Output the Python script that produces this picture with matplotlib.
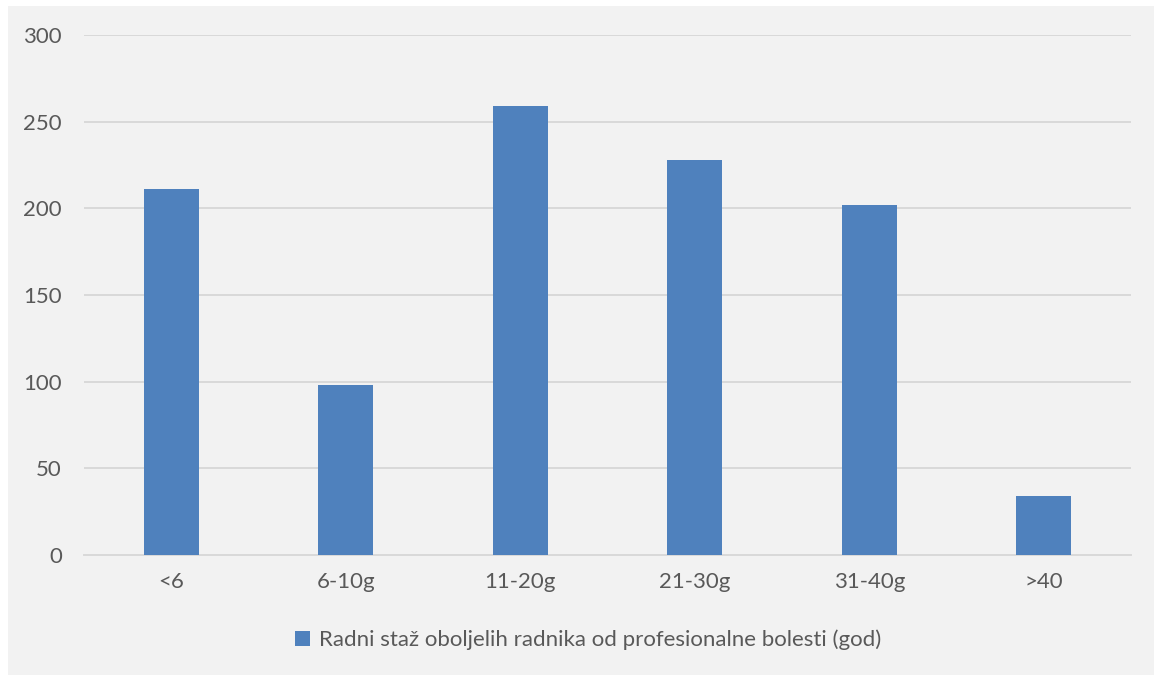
import matplotlib.pyplot as plt
import numpy as np
from matplotlib.patches import Rectangle

categories = ["<6", "6-10g", "11-20g", "21-30g", "31-40g", ">40"]
values = [211, 98, 259, 228, 202, 34]
series_name = "Radni staž oboljelih radnika od profesionalne bolesti (god)"
y_ticks = [0, 50, 100, 150, 200, 250, 300]

W, H = 1154, 675
plt.rcParams["font.family"] = ["Lato", "DejaVu Sans"]

fig = plt.figure(figsize=(W / 100, H / 100), dpi=100, facecolor="white")

# light grey chart area like the Excel chart background
fig.patches.append(
    Rectangle((8 / W, 0), 1 - 8 / W, 1 - 6 / H, transform=fig.transFigure,
              facecolor="#f2f2f2", edgecolor="none", zorder=-5)
)

ax = fig.add_axes([84 / W, 1 - 555 / H, (1131 - 84) / W, (555 - 35) / H])
ax.set_facecolor("none")

x = np.arange(len(categories))
bars = ax.bar(x, values, width=0.315, color="#4f81bd", zorder=3,
              label=series_name)

ax.set_xlim(-0.5, len(categories) - 0.5)
ax.set_ylim(0, 300)
ax.set_yticks(y_ticks)
ax.set_xticks(x)
ax.set_xticklabels(categories)

ax.yaxis.grid(True, color="#d9d9d9", linewidth=1.4, zorder=0)
ax.set_axisbelow(True)
for s in ["left", "top", "right"]:
    ax.spines[s].set_visible(False)
ax.spines["bottom"].set_color("#d9d9d9")
ax.spines["bottom"].set_linewidth(1.4)

ax.tick_params(axis="both", length=0, labelsize=16, labelcolor="#595959")
ax.tick_params(axis="y", pad=16)
ax.tick_params(axis="x", pad=12)

fig.legend(handles=[bars], labels=[series_name], loc="center",
           bbox_to_anchor=(588 / W, 1 - 640 / H), frameon=False,
           fontsize=16, labelcolor="#595959", handlelength=0.65,
           handleheight=0.65, handletextpad=0.4)

fig.savefig("out.png", dpi=100)
